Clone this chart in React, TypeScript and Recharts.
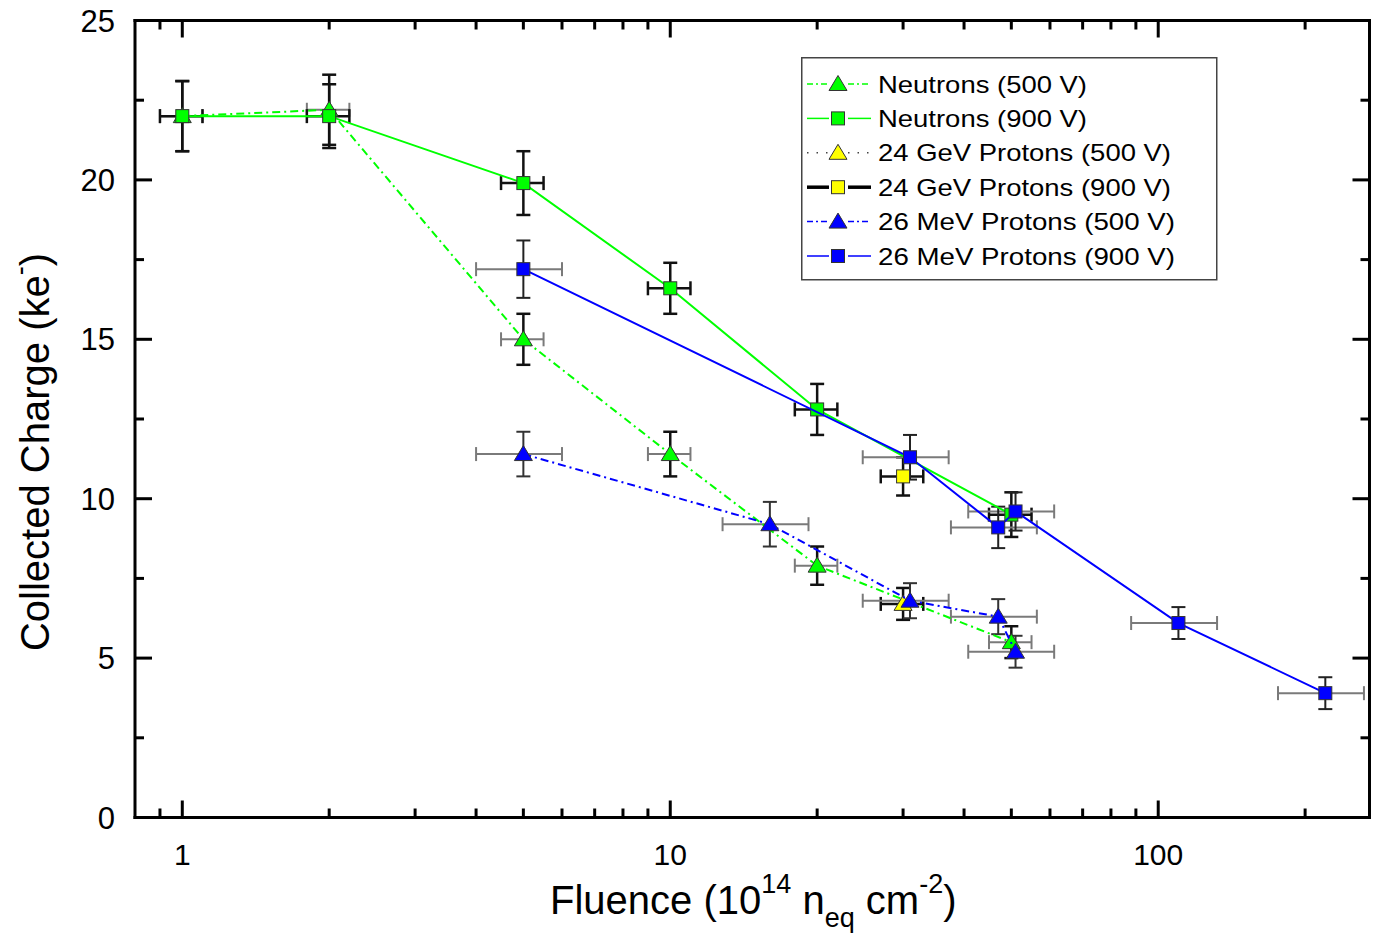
import React from 'react';
import { ComposedChart, Scatter, XAxis, YAxis, ErrorBar, Legend, Label } from 'recharts';

// ---------- data ----------
const neutron500X = [1, 2, 5, 10, 20, 50];
const neutron500Y = [22.0, 22.2, 15.0, 11.4, 7.9, 5.5];
const neutron500XErr = [0.1, 0.2, 0.5, 1, 2, 5];
const neutron500YErr = [1.1, 1.1, 0.8, 0.7, 0.6, 0.5];

const neutron900X = [1, 2, 5, 10, 20, 50];
const neutron900Y = [22.0, 22.0, 19.9, 16.6, 12.8, 9.5];
const neutron900XErr = [0.1, 0.2, 0.5, 1, 2, 5];
const neutron900YErr = [1.1, 1.0, 1.0, 0.8, 0.8, 0.7];

const gev500X = [30];
const gev500Y = [6.7];
const gev500XErr = [3];
const gev500YErr = [0.5];

const gev900X = [30];
const gev900Y = [10.7];
const gev900XErr = [3];
const gev900YErr = [0.6];

const mev500X = [5, 16, 31, 47, 51];
const mev500Y = [11.4, 9.2, 6.8, 6.3, 5.2];
const mev500XErr = [1, 3.2, 6.2, 9.4, 10.2];
const mev500YErr = [0.7, 0.7, 0.55, 0.55, 0.5];

const mev900X = [5, 31, 47, 51, 110, 220];
const mev900Y = [17.2, 11.3, 9.1, 9.6, 6.1, 3.9];
const mev900XErr = [1, 6.2, 9.4, 10.2, 22, 44];
const mev900YErr = [0.9, 0.7, 0.65, 0.6, 0.5, 0.5];

const xTicks = [0.9, 1, 2, 3, 4, 5, 6, 7, 8, 9, 10, 20, 30, 40, 50, 60, 70, 80, 90, 100, 200];
const xMajorTicks = [1, 10, 100];
const yTicks = [0, 2.5, 5, 7.5, 10, 12.5, 15, 17.5, 20, 22.5, 25];
const yMajorTicks = [0, 5, 10, 15, 20, 25];

const seriesNames = [
  'Neutrons (500 V)',
  'Neutrons (900 V)',
  '24 GeV Protons (500 V)',
  '24 GeV Protons (900 V)',
  '26 MeV Protons (500 V)',
  '26 MeV Protons (900 V)',
];

const rows = (xs: number[], ys: number[], xe: number[], ye: number[]) =>
  xs.map((x, i) => ({ x, y: ys[i], xErr: xe[i], yErr: ye[i] }));

const neutron500 = rows(neutron500X, neutron500Y, neutron500XErr, neutron500YErr);
const neutron900 = rows(neutron900X, neutron900Y, neutron900XErr, neutron900YErr);
const gev500 = rows(gev500X, gev500Y, gev500XErr, gev500YErr);
const gev900 = rows(gev900X, gev900Y, gev900XErr, gev900YErr);
const mev500 = rows(mev500X, mev500Y, mev500XErr, mev500YErr);
const mev900 = rows(mev900X, mev900Y, mev900XErr, mev900YErr);

// ---------- style ----------
const GREEN = '#00ff00';
const BLUE = '#0000ff';
const YELLOW = '#ffff00';
const FONT = '"Liberation Sans", Arial, Helvetica, sans-serif';
const DASHDOT = '8 4 2 4';
const GRAY_BAR = '#7a7a7a';

const SquareShape = (props: any) => {
  const { cx, cy, fill } = props;
  if (cx == null || cy == null) return null;
  return <rect x={cx - 6.5} y={cy - 6.5} width={13} height={13} fill={fill} stroke="#333" strokeWidth={1} />;
};

const TriangleShape = (props: any) => {
  const { cx, cy, fill } = props;
  if (cx == null || cy == null) return null;
  return (
    <polygon
      points={`${cx},${cy - 8.5} ${cx + 9},${cy + 6.5} ${cx - 9},${cy + 6.5}`}
      fill={fill}
      stroke="#333"
      strokeWidth={1}
    />
  );
};

const BottomTick = (props: any) => {
  const { x, y, payload } = props;
  const major = xMajorTicks.includes(payload.value);
  return (
    <g>
      <line x1={x} x2={x} y1={y} y2={y - (major ? 17 : 9)} stroke="#000" strokeWidth={3} />
      {major && (
        <text x={x} y={y + 47.5} textAnchor="middle" fontSize={30} fontFamily={FONT} fill="#000">
          {payload.value}
        </text>
      )}
    </g>
  );
};

const TopTick = (props: any) => {
  const { x, y, payload } = props;
  const major = xMajorTicks.includes(payload.value);
  return <line x1={x} x2={x} y1={y} y2={y + (major ? 17 : 9)} stroke="#000" strokeWidth={3} />;
};

const LeftTick = (props: any) => {
  const { x, y, payload } = props;
  const major = yMajorTicks.includes(payload.value);
  return (
    <g>
      <line x1={x} x2={x + (major ? 17 : 9)} y1={y} y2={y} stroke="#000" strokeWidth={3} />
      {major && (
        <text x={x - 20} y={y + 11} textAnchor="end" fontSize={31} fontFamily={FONT} fill="#000">
          {payload.value}
        </text>
      )}
    </g>
  );
};

const RightTick = (props: any) => {
  const { x, y, payload } = props;
  const major = yMajorTicks.includes(payload.value);
  return <line x1={x} x2={x - (major ? 17 : 9)} y1={y} y2={y} stroke="#000" strokeWidth={3} />;
};

const XTitle = (props: any) => {
  const vb = props.viewBox || { x: 135, y: 817.5, width: 1234.5, height: 115.5 };
  const cx = vb.x + vb.width / 2 + 1;
  const by = vb.y + 96.5;
  return (
    <text x={cx} y={by} textAnchor="middle" fontSize={40} fontFamily={FONT} fill="#000">
      Fluence (10
      <tspan fontSize={27} dy={-21}>14</tspan>
      <tspan dy={21}> n</tspan>
      <tspan fontSize={27} dy={13}>eq</tspan>
      <tspan dy={-13}> cm</tspan>
      <tspan fontSize={27} dy={-21}>-2</tspan>
      <tspan dy={21}>)</tspan>
    </text>
  );
};

const YTitle = (props: any) => {
  const vb = props.viewBox || { x: 0, y: 20.5, width: 135, height: 797 };
  const cy = vb.y + vb.height / 2 + 33;
  const bx = 49;
  return (
    <text
      x={bx}
      y={cy}
      transform={`rotate(-90, ${bx}, ${cy})`}
      textAnchor="middle"
      fontSize={40}
      fontFamily={FONT}
      fill="#000"
    >
      Collected Charge (ke
      <tspan fontSize={27} dy={-20}>-</tspan>
      <tspan dy={20}>)</tspan>
    </text>
  );
};

type LegendStyle = {
  color: string;
  shape: 'triangle' | 'square';
  stroke: string;
  width: number;
  dash?: string;
  textLen: number;
};

const legendStyles: LegendStyle[] = [
  { color: GREEN, shape: 'triangle', stroke: GREEN, width: 1.5, dash: '6 3 2 3', textLen: 209 },
  { color: GREEN, shape: 'square', stroke: GREEN, width: 1.5, textLen: 209 },
  { color: YELLOW, shape: 'triangle', stroke: '#444', width: 1.5, dash: '1.5 8', textLen: 293 },
  { color: YELLOW, shape: 'square', stroke: '#000', width: 3.5, textLen: 293 },
  { color: BLUE, shape: 'triangle', stroke: BLUE, width: 1.5, dash: '6 3 2 3', textLen: 297 },
  { color: BLUE, shape: 'square', stroke: BLUE, width: 1.5, textLen: 297 },
];

const LegendBox = () => (
  <svg width={418} height={225} style={{ display: 'block' }}>
    <rect x={0.75} y={0.75} width={415} height={222} fill="#fff" stroke="#444" strokeWidth={1.5} />
    {seriesNames.map((name, i) => {
      const s = legendStyles[i];
      const cy = 27 + i * 34.4;
      const mx = 37;
      return (
        <g key={name}>
          <line x1={6} x2={28} y1={cy} y2={cy} stroke={s.stroke} strokeWidth={s.width} strokeDasharray={s.dash} />
          <line x1={47} x2={70} y1={cy} y2={cy} stroke={s.stroke} strokeWidth={s.width} strokeDasharray={s.dash} />
          {s.shape === 'triangle' ? (
            <TriangleShape cx={mx} cy={cy} fill={s.color} />
          ) : (
            <SquareShape cx={mx} cy={cy} fill={s.color} />
          )}
          <text
            x={77}
            y={cy + 8.5}
            fontSize={24}
            fontFamily={FONT}
            fill="#000"
            textLength={s.textLen}
            lengthAdjust="spacingAndGlyphs"
          >
            {name}
          </text>
        </g>
      );
    })}
  </svg>
);

export default function App() {
  return (
    <div style={{ position: 'absolute', left: 0, top: 0, width: 1374, height: 933, background: '#fff', overflow: 'hidden' }}>
      <ComposedChart
        width={1374}
        height={933}
        margin={{ top: 19.5, right: 3.5, bottom: 0, left: 0 }}
      >
        <XAxis
          dataKey="x"
          type="number"
          scale="log"
          domain={[0.8, 271]}
          allowDataOverflow
          ticks={xTicks}
          interval={0}
          tick={<BottomTick />}
          tickLine={false}
          tickSize={0}
          tickMargin={0}
          height={115.5}
          axisLine={{ stroke: '#000', strokeWidth: 3, strokeLinecap: 'square' }}
        >
          <Label content={<XTitle />} />
        </XAxis>
        <XAxis
          xAxisId="top"
          orientation="top"
          dataKey="x"
          type="number"
          scale="log"
          domain={[0.8, 271]}
          allowDataOverflow
          ticks={xTicks}
          interval={0}
          tick={<TopTick />}
          tickLine={false}
          tickSize={0}
          tickMargin={0}
          height={1}
          axisLine={{ stroke: '#000', strokeWidth: 3, strokeLinecap: 'square' }}
        />
        <YAxis
          dataKey="y"
          type="number"
          domain={[0, 25]}
          allowDataOverflow
          ticks={yTicks}
          interval={0}
          tick={<LeftTick />}
          tickLine={false}
          tickSize={0}
          tickMargin={0}
          width={135}
          axisLine={{ stroke: '#000', strokeWidth: 3, strokeLinecap: 'square' }}
        >
          <Label content={<YTitle />} />
        </YAxis>
        <YAxis
          yAxisId="right"
          orientation="right"
          dataKey="y"
          type="number"
          domain={[0, 25]}
          allowDataOverflow
          ticks={yTicks}
          interval={0}
          tick={<RightTick />}
          tickLine={false}
          tickSize={0}
          tickMargin={0}
          width={1}
          axisLine={{ stroke: '#000', strokeWidth: 3, strokeLinecap: 'square' }}
        />

        <Scatter
          name={seriesNames[0]}
          data={neutron500}
          dataKey="y"
          fill={GREEN}
          shape={<TriangleShape />}
          line={{ stroke: GREEN, strokeWidth: 2, strokeDasharray: DASHDOT }}
          lineType="joint"
          isAnimationActive={false}
        >
          <ErrorBar dataKey="xErr" direction="x" width={7} stroke={GRAY_BAR} strokeWidth={2} />
          <ErrorBar dataKey="yErr" direction="y" width={7} stroke="#111" strokeWidth={2.5} />
        </Scatter>
        <Scatter
          name={seriesNames[1]}
          data={neutron900}
          dataKey="y"
          fill={GREEN}
          shape={<SquareShape />}
          line={{ stroke: GREEN, strokeWidth: 2 }}
          lineType="joint"
          isAnimationActive={false}
        >
          <ErrorBar dataKey="xErr" direction="x" width={7} stroke="#111" strokeWidth={2.5} />
          <ErrorBar dataKey="yErr" direction="y" width={7} stroke="#111" strokeWidth={2.5} />
        </Scatter>
        <Scatter
          name={seriesNames[2]}
          data={gev500}
          dataKey="y"
          fill={YELLOW}
          shape={<TriangleShape />}
          isAnimationActive={false}
        >
          <ErrorBar dataKey="xErr" direction="x" width={7} stroke="#111" strokeWidth={2.5} />
          <ErrorBar dataKey="yErr" direction="y" width={7} stroke="#111" strokeWidth={2.5} />
        </Scatter>
        <Scatter
          name={seriesNames[3]}
          data={gev900}
          dataKey="y"
          fill={YELLOW}
          shape={<SquareShape />}
          isAnimationActive={false}
        >
          <ErrorBar dataKey="xErr" direction="x" width={7} stroke="#111" strokeWidth={2.5} />
          <ErrorBar dataKey="yErr" direction="y" width={7} stroke="#111" strokeWidth={2.5} />
        </Scatter>
        <Scatter
          name={seriesNames[4]}
          data={mev500}
          dataKey="y"
          fill={BLUE}
          shape={<TriangleShape />}
          line={{ stroke: BLUE, strokeWidth: 2, strokeDasharray: DASHDOT }}
          lineType="joint"
          isAnimationActive={false}
        >
          <ErrorBar dataKey="xErr" direction="x" width={7} stroke={GRAY_BAR} strokeWidth={2} />
          <ErrorBar dataKey="yErr" direction="y" width={7} stroke="#333" strokeWidth={2} />
        </Scatter>
        <Scatter
          name={seriesNames[5]}
          data={mev900}
          dataKey="y"
          fill={BLUE}
          shape={<SquareShape />}
          line={{ stroke: BLUE, strokeWidth: 2 }}
          lineType="joint"
          isAnimationActive={false}
        >
          <ErrorBar dataKey="xErr" direction="x" width={7} stroke={GRAY_BAR} strokeWidth={2} />
          <ErrorBar dataKey="yErr" direction="y" width={7} stroke="#222" strokeWidth={2} />
        </Scatter>

        <Legend
          layout="vertical"
          align="center"
          verticalAlign="middle"
          width={418}
          height={225}
          content={<LegendBox />}
          wrapperStyle={{ left: 801, top: 57, width: 418, height: 225 }}
        />
      </ComposedChart>
    </div>
  );
}
